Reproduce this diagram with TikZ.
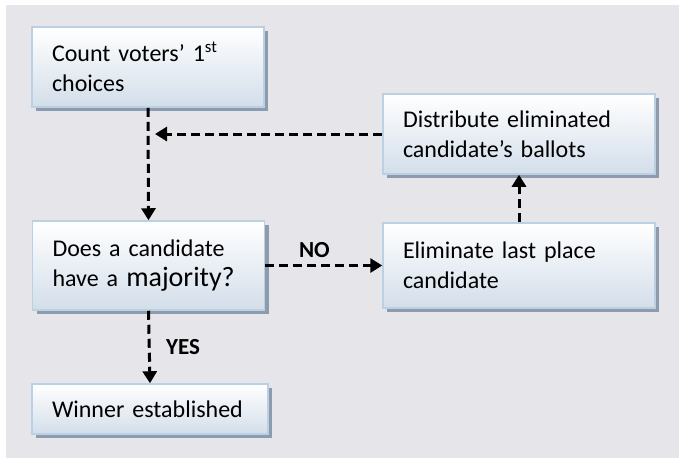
\documentclass[tikz,border=0pt]{standalone}
\usepackage{fontspec}
\setmainfont{Carlito}
\usetikzlibrary{arrows.meta, shadows}

\definecolor{bggray}{HTML}{E6E5EA}
\definecolor{boxedge}{HTML}{BCD0E3}
\definecolor{boxfill}{HTML}{D3DEEA}
\definecolor{boxshadow}{HTML}{8D9BAE}

\begin{document}
\begin{tikzpicture}[x=1pt, y=-1pt,
		stepbox/.style={draw=boxedge, line width=1.5pt, top color=white, bottom color=boxfill,
			drop shadow={shadow xshift=4pt, shadow yshift=-4pt, fill=boxshadow, opacity=1},
			align=left, inner xsep=20pt, inner ysep=0pt,
			font=\fontsize{24}{30}\selectfont},
		flow/.style={line width=3pt, dash pattern=on 9pt off 5pt, -{Triangle[length=12pt, width=14pt]}},
		answer/.style={font=\fontsize{23}{28}\selectfont\bfseries}]
			\useasboundingbox (0,0) rectangle (679,459);
			\fill[bggray] (6,5) rectangle (679,458);

			\node[stepbox, text width=192pt, minimum height=80pt] (count) at (148,67)
				{Count voters’ 1\textsuperscript{st}\\choices};
			\node[stepbox, text width=232pt, minimum height=80pt] (distrib) at (519,134)
				{Distribute eliminated\\candidate’s ballots};
			\node[stepbox, text width=192pt, minimum height=89pt] (does) at (148.5,265.5)
				{Does a candidate\\have a {\fontsize{28}{30}\selectfont majority?}};
			\node[stepbox, text width=232pt, minimum height=85pt] (elim) at (519,265.5)
				{Eliminate last place\\candidate};
			\node[stepbox, text width=196pt, minimum height=50pt] (winner) at (150,409)
				{Winner established};

			\coordinate (merge) at ([xshift=7pt]count.south |- distrib.west);

			\draw[flow] (count.south) -- (does.north);
			\draw[flow] (distrib.west) -- (merge);
			\draw[flow] (elim.north) -- (distrib.south);
			\draw[flow] (does.east) -- node[answer, above=3pt, pos=0.42] {NO} (elim.west);
			\draw[flow] (does.south) -- node[answer, right=12pt, midway] {YES} (winner.north);
		\end{tikzpicture}
\end{document}
